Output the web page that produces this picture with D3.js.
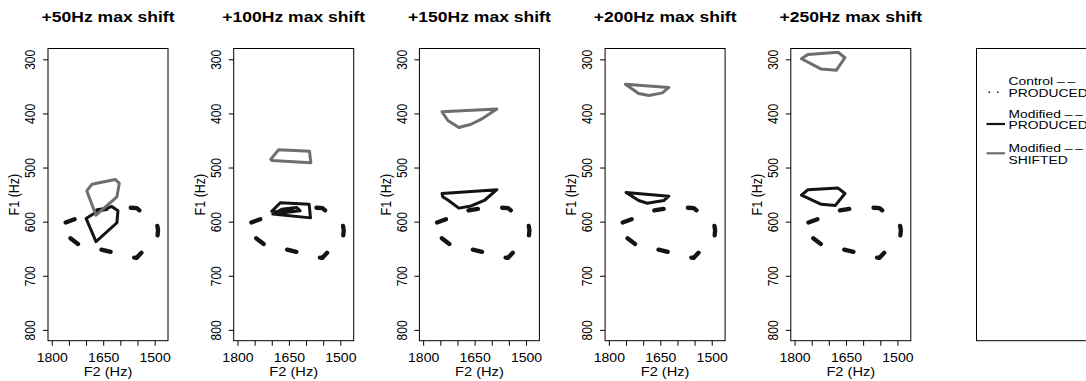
<!DOCTYPE html>
<html>
<head>
<meta charset="utf-8">
<script src="https://cdn.jsdelivr.net/npm/d3@7"></script>
<style>
body { margin: 0; background: #fff; }
svg text { font-family: "Liberation Sans", Arial, Helvetica, sans-serif; fill: #000; }
</style>
</head>
<body>
<div id="chart"></div>
<script>
// panel titles
const panelTitles = ["+50Hz max shift", "+100Hz max shift", "+150Hz max shift", "+200Hz max shift", "+250Hz max shift"];

// control -- produced contour (same in every panel), F2 / F1 in Hz
const controlF2 = [1766, 1727, 1674, 1635, 1578, 1552, 1539, 1493, 1490, 1492, 1535, 1553, 1566, 1620, 1659, 1720, 1749, 1772];
const controlF1 = [603, 594, 580, 576, 574, 575, 582, 604, 616, 629, 655, 667, 666, 657, 651, 643, 629, 614];

// modified -- produced, one polygon per panel
const producedF2 = [
  [1700, 1664, 1625, 1607, 1610, 1671],
  [1700, 1675, 1591, 1587, 1697, 1671, 1627, 1617, 1661],
  [1745, 1585, 1620, 1660, 1696, 1728, 1743],
  [1750, 1625, 1640, 1688, 1713],
  [1780, 1761, 1673, 1653, 1681, 1722]
];
const producedF1 = [
  [594, 580, 572, 580, 602, 637],
  [581, 565, 568, 593, 586, 577, 574, 580, 583],
  [548, 541, 560, 571, 575, 560, 554],
  [546, 553, 561, 566, 561],
  [551, 541, 538, 548, 570, 568]
];

// modified -- shifted, one polygon per panel
const shiftedF2 = [
  [1698, 1683, 1615, 1603, 1610, 1671],
  [1703, 1680, 1590, 1586, 1699],
  [1745, 1585, 1626, 1660, 1696, 1728],
  [1752, 1625, 1644, 1683, 1713],
  [1780, 1761, 1673, 1653, 1678, 1722]
];
const shiftedF1 = [
  [543, 531, 522, 529, 554, 588],
  [485, 467, 470, 491, 487],
  [397, 392, 409, 420, 426, 413],
  [346, 352, 362, 367, 363],
  [299, 291, 287, 297, 320, 318]
];

const xTicks = [1800, 1750, 1700, 1650, 1600, 1550, 1500];
const xTickLabels = [1800, 1650, 1500];
const yTicks = [300, 400, 500, 600, 700, 800];
const legendLabels = [["Control \u2013\u2009\u2013", "PRODUCED"], ["Modified \u2013\u2009\u2013", "PRODUCED"], ["Modified \u2013\u2009\u2013", "SHIFTED"]];

const width = 1086, height = 381;
const panelLeft = 48, panelStep = 185.7, panelW = 120, panelTop = 48.5, panelH = 292.2;
const stretch = 1.17;   // the picture is a bit wider than tall, text too
const darkCol = "#141414", grayCol = "#6e6e6e";

const svg = d3.select("#chart").append("svg").attr("width", width).attr("height", height);

const x = d3.scaleLinear().domain([1811, 1461]).range([0, panelW]);
const y = d3.scaleLinear().domain([280, 820]).range([0, panelH]);

const line = d3.line().x(d => x(d[0])).y(d => y(d[1])).curve(d3.curveLinearClosed);
const zip = (a, b) => a.map((v, i) => [v, b[i]]);

panelTitles.forEach((title, i) => {
  const g = svg.append("g").attr("transform", "translate(" + (panelLeft + i * panelStep) + "," + panelTop + ")");

  g.append("text")
    .attr("transform", "translate(" + panelW / 2 + ",-26.8) scale(" + stretch + ",1)")
    .attr("text-anchor", "middle")
    .style("font-weight", "bold").style("font-size", "15px")
    .text(title);

  // control contour, dashed
  g.append("path").datum(zip(controlF2, controlF1))
    .attr("d", line)
    .attr("fill", "none").attr("stroke", darkCol).attr("stroke-width", 4.3)
    .attr("stroke-linecap", "round").attr("stroke-linejoin", "round")
    .attr("stroke-dasharray", "9.5,24.25").attr("stroke-dashoffset", -2.35);

  g.append("path").datum(zip(producedF2[i], producedF1[i]))
    .attr("d", line)
    .attr("fill", "none").attr("stroke", darkCol).attr("stroke-width", 3)
    .attr("stroke-linejoin", "round");

  g.append("path").datum(zip(shiftedF2[i], shiftedF1[i]))
    .attr("d", line)
    .attr("fill", "none").attr("stroke", grayCol).attr("stroke-width", 3)
    .attr("stroke-linejoin", "round");

  g.append("rect").attr("width", panelW).attr("height", panelH)
    .attr("fill", "none").attr("stroke", "#000").attr("stroke-width", 1);

  const gx = g.append("g").attr("transform", "translate(0," + panelH + ")")
    .call(d3.axisBottom(x).tickValues(xTicks).tickSize(5)
      .tickFormat(d => xTickLabels.includes(d) ? d : ""));
  gx.select(".domain").remove();
  gx.selectAll("text").attr("y", null).attr("dy", null)
    .attr("transform", "translate(0,20.8) scale(" + stretch + ",1)")
    .style("font-size", "12px");

  const gy = g.append("g").call(d3.axisLeft(y).tickValues(yTicks).tickSize(5));
  gy.select(".domain").remove();
  gy.selectAll("text").attr("x", null).attr("dy", null)
    .attr("text-anchor", "middle")
    .attr("transform", "translate(-12.7,0) scale(" + stretch + ",1) rotate(-90)")
    .style("font-size", "12px");

  g.append("text")
    .attr("transform", "translate(" + panelW / 2 + "," + (panelH + 35.3) + ") scale(" + stretch + ",1)")
    .attr("text-anchor", "middle").style("font-size", "12.5px")
    .text("F2 (Hz)");

  g.append("text")
    .attr("transform", "translate(-28.8," + y(550) + ") scale(" + stretch + ",1) rotate(-90)")
    .attr("text-anchor", "middle").style("font-size", "12.5px")
    .text("F1 (Hz)");
});

// legend panel
const lg = svg.append("g").attr("transform", "translate(" + (panelLeft + 5 * panelStep) + "," + panelTop + ")");
lg.append("rect").attr("width", panelW).attr("height", panelH)
  .attr("fill", "none").attr("stroke", "#000").attr("stroke-width", 1);

const textBase = [[36.2, 48.1], [69.1, 80.3], [103.1, 115]];
const symY = [43.8, 75.5, 104.8];
const symStyle = [
  { col: darkCol, w: 1.6, dash: "1.6,6.9" },
  { col: darkCol, w: 2.2, dash: null },
  { col: grayCol, w: 2.2, dash: null }
];
legendLabels.forEach((lab, k) => {
  lg.append("line")
    .attr("x1", k === 0 ? 12 : 10).attr("x2", k === 0 ? 22 : 28.5)
    .attr("y1", symY[k]).attr("y2", symY[k])
    .attr("stroke", symStyle[k].col).attr("stroke-width", symStyle[k].w)
    .attr("stroke-dasharray", symStyle[k].dash);
  lab.forEach((t, j) => {
    lg.append("text")
      .attr("transform", "translate(32," + textBase[k][j] + ") scale(1.26,1)")
      .style("font-size", "11px")
      .text(t);
  });
});
</script>
</body>
</html>
